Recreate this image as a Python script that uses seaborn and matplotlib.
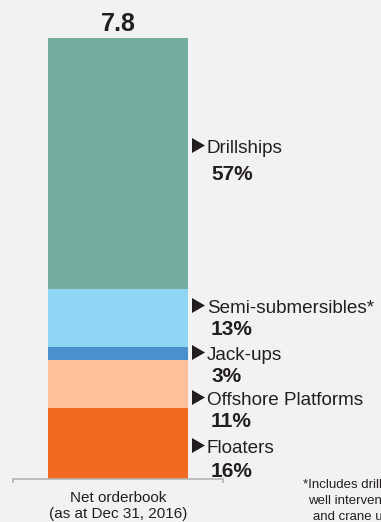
import matplotlib as mpl

mpl.use("Agg")

import matplotlib.pyplot as plt
import pandas as pd
import seaborn as sns
from matplotlib.patches import Polygon

sns.set_theme(style="white")
plt.rcParams["font.family"] = ["Liberation Sans", "DejaVu Sans"]

# ---- data ----
TOTAL = 7.8
CATEGORY = "Net orderbook\n(as at Dec 31, 2016)"
segments = ["Floaters", "Offshore Platforms", "Jack-ups", "Semi-submersibles*", "Drillships"]
shares = [16, 11, 3, 13, 57]  # percent, bottom to top
colors = ["#f26a22", "#fdc09a", "#4a90cd", "#8fd5f5", "#73ae9e"]
footnote = ["*Includes drilling,", "well intervention", "and crane units"]

# ---- layout (pixels, top-left origin) ----
W, H = 381, 522
label_baselines = [453, 405, 360, 313, 153]   # segment name baselines
pct_baselines = [477, 427, 382, 335, 180]
TRI_X, NAME_X, PCT_X = 192, 207, 211
TEXT = "#231f20"
BG = "#f2f2f2"


def fx(px):
    return px / W


def fy(py):
    return 1 - py / H


cum = pd.Series(shares).cumsum() / 100 * TOTAL
df = pd.DataFrame({"segment": segments, "top": cum, "color": colors})

fig = plt.figure(figsize=(W / 100, H / 100), dpi=100, facecolor=BG)
ax = fig.add_axes([fx(13), fy(479), fx(223) - fx(13), fy(38) - fy(479)])
ax.set_facecolor(BG)

# stacked bar: draw cumulative tops from tallest down
for _, row in df.iloc[::-1].iterrows():
    sns.barplot(x=[CATEGORY], y=[row["top"]], color=row["color"], width=0.668,
                saturation=1, linewidth=0, ax=ax)

ax.set_xlim(-0.5, 0.5)
ax.set_ylim(0, TOTAL)
ax.set_yticks([])
ax.set_xlabel("")
ax.set_ylabel("")
for side in ["left", "right", "top"]:
    ax.spines[side].set_visible(False)
ax.spines["bottom"].set_color("#b4b4b4")
ax.spines["bottom"].set_linewidth(1.2)
ax.set_xticks([-0.5, 0.5], minor=True)
ax.tick_params(axis="x", which="minor", bottom=True, length=3, width=1.2, color="#b4b4b4")
ax.tick_params(axis="x", which="major", length=0, pad=9, labelsize=11, labelcolor=TEXT)
for lab in ax.get_xticklabels():
    lab.set_linespacing(1.1)

ax.annotate(f"{TOTAL:.1f}", (0, TOTAL), xytext=(0, 5), textcoords="offset points",
            ha="center", va="baseline", fontsize=18, fontweight="bold", color=TEXT)

for name, share, yb, yp in zip(segments, shares, label_baselines, pct_baselines):
    tri = Polygon([(fx(TRI_X), fy(yb - 15)), (fx(TRI_X), fy(yb)), (fx(TRI_X + 13), fy(yb - 7.5))],
                  closed=True, facecolor=TEXT, edgecolor="none", transform=fig.transFigure)
    fig.add_artist(tri)
    fig.text(fx(NAME_X), fy(yb), name, ha="left", va="baseline", fontsize=13.6, color=TEXT)
    fig.text(fx(PCT_X), fy(yp), f"{share}%", ha="left", va="baseline", fontsize=15,
             fontweight="bold", color=TEXT)

for i, (line, x0) in enumerate(zip(footnote, [303, 308, 313])):
    fig.text(fx(x0), fy(488 + 16 * i), line, ha="left", va="baseline", fontsize=9.5, color=TEXT)

fig.savefig("out.png", dpi=100, facecolor=BG)
